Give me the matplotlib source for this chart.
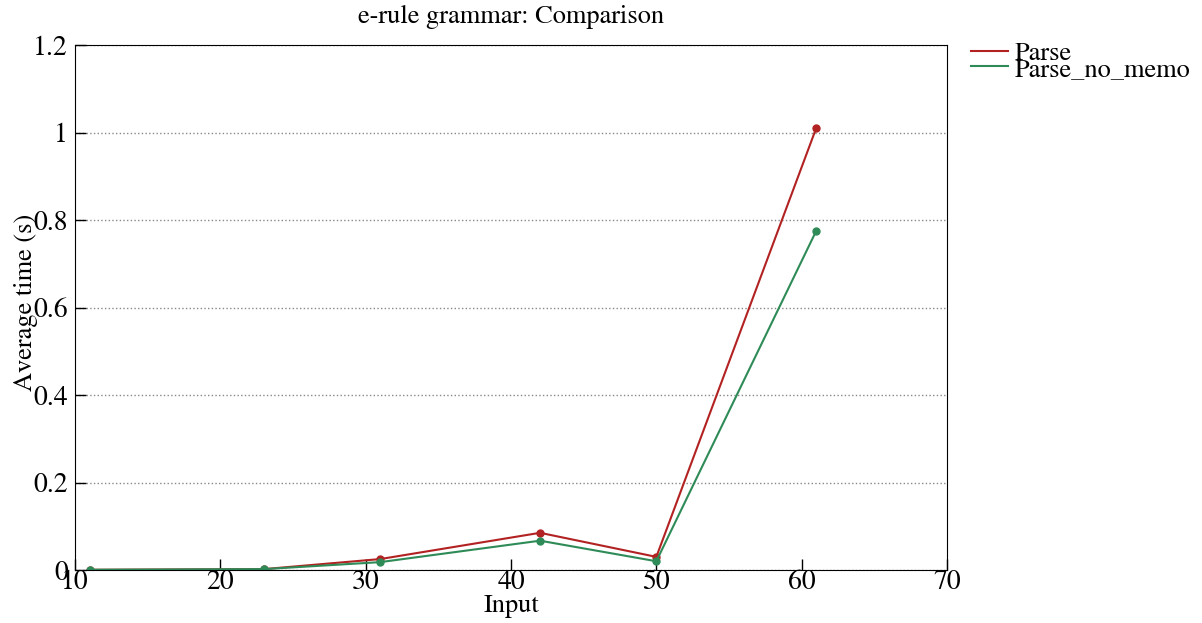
import matplotlib
matplotlib.use("Agg")
import matplotlib.pyplot as plt
from matplotlib.ticker import FuncFormatter

plt.rcParams['font.family'] = ['STIXGeneral', 'DejaVu Serif']
plt.rcParams['mathtext.fontset'] = 'stix'

inputs = [11, 23, 31, 42, 50, 61]
parse = [0.0005, 0.002, 0.025, 0.085, 0.030, 1.010]
parse_no_memo = [0.0005, 0.002, 0.018, 0.067, 0.020, 0.775]

xticks = [10, 20, 30, 40, 50, 60, 70]
yticks = [0, 0.2, 0.4, 0.6, 0.8, 1.0, 1.2]

fig = plt.figure(figsize=(12.02, 6.23), dpi=100)
ax = fig.add_axes([75 / 1202, 1 - 570 / 623, 872 / 1202, 525 / 623])

ax.plot(inputs, parse, color='#b22222', marker='o', markersize=5, lw=1.5, label='Parse')
ax.plot(inputs, parse_no_memo, color='#2e8b57', marker='o', markersize=5, lw=1.5, label='Parse_no_memo')

ax.set_xlim(10, 70)
ax.set_ylim(0, 1.2)
ax.set_xticks(xticks)
ax.set_yticks(yticks)
ax.yaxis.set_major_formatter(FuncFormatter(lambda v, p: ('%g' % round(v, 2))))
ax.tick_params(direction='in', length=8, width=1, labelsize=20, top=False, right=False)
ax.tick_params(axis='x', pad=0)
ax.tick_params(axis='y', pad=5)
ax.yaxis.grid(True, linestyle=':', color='#888888', lw=1)
ax.set_axisbelow(True)

ax.set_title('e-rule grammar: Comparison', fontsize=19, pad=16)
ax.set_xlabel('Input', fontsize=19)
ax.xaxis.set_label_coords(0.5, -0.045)
ax.set_ylabel('Average time (s)', fontsize=19)
ax.yaxis.set_label_coords(-0.042, 0.51)

leg = ax.legend(loc='upper left', bbox_to_anchor=(1.0, 1.051), frameon=False, fontsize=19,
                labelspacing=-0.35, handlelength=1.4, handletextpad=0.27, borderaxespad=0.5)
for h in leg.legend_handles:
    h.set_marker('')

fig.savefig('out.png', dpi=100)
